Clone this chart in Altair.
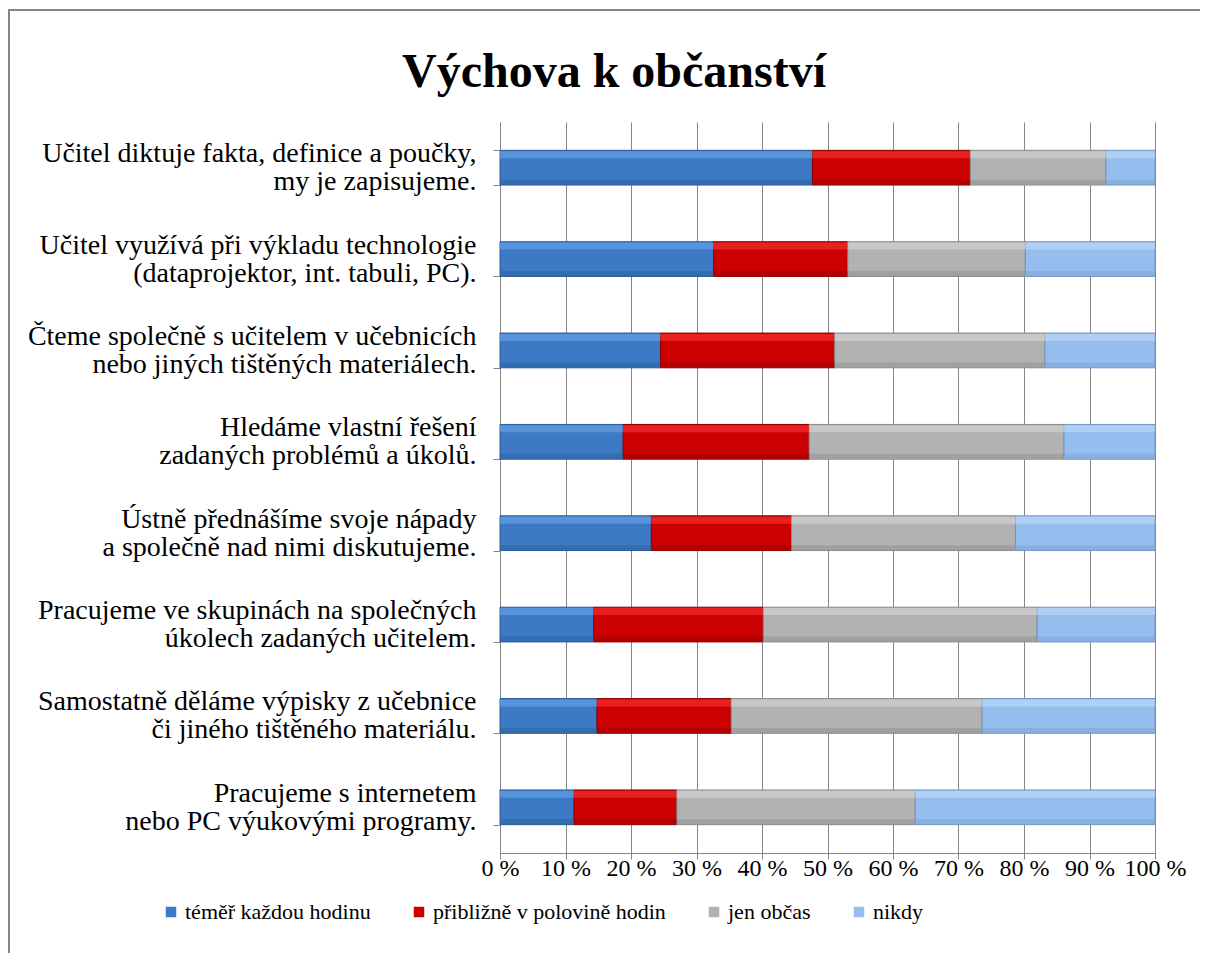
import altair as alt
import pandas as pd

title_text = "Výchova k občanství"

categories = [
    "Učitel diktuje fakta, definice a poučky,|my je zapisujeme.",
    "Učitel využívá při výkladu technologie|(dataprojektor, int. tabuli, PC).",
    "Čteme společně s učitelem v učebnicích|nebo jiných tištěných materiálech.",
    "Hledáme vlastní řešení|zadaných problémů a úkolů.",
    "Ústně přednášíme svoje nápady|a společně nad nimi diskutujeme.",
    "Pracujeme ve skupinách na společných|úkolech zadaných učitelem.",
    "Samostatně děláme výpisky z učebnice|či jiného tištěného materiálu.",
    "Pracujeme s internetem|nebo PC výukovými programy.",
]

series = ["téměř každou hodinu", "přibližně v polovině hodin", "jen občas", "nikdy"]

s_kazdou = [47.7, 32.6, 24.5, 18.8, 23.1, 14.3, 14.8, 11.3]
s_polovina = [24.1, 20.5, 26.6, 28.4, 21.4, 25.9, 20.5, 15.7]
s_obcas = [20.7, 27.1, 32.1, 38.9, 34.2, 41.8, 38.3, 36.4]
s_nikdy = [7.5, 19.8, 16.8, 13.9, 21.3, 18.0, 26.4, 36.6]

x_ticks = [0, 0.1, 0.2, 0.3, 0.4, 0.5, 0.6, 0.7, 0.8, 0.9, 1.0]

fill_colors = ["#3C7AC6", "#CC0000", "#B2B2B2", "#95BDEE"]
edge_colors = ["#2B5A94", "#8E0000", "#8A8A8A", "#6F95C4"]
light_colors = ["#6DA9EE", "#FF3A3A", "#DADADA", "#C4DFFB"]
dark_colors = ["#2E619F", "#A00000", "#929292", "#7FA4D2"]

rows = []
for si, (name, vals) in enumerate(zip(series, [s_kazdou, s_polovina, s_obcas, s_nikdy])):
    for cat, v in zip(categories, vals):
        rows.append({"kategorie": cat, "serie": name, "hodnota": v, "poradi": si})
df = pd.DataFrame(rows)

FONT = "Liberation Serif"

y_enc = alt.Y(
    "kategorie:N",
    sort=categories,
    scale=alt.Scale(paddingInner=0.62, paddingOuter=0.31),
    axis=alt.Axis(
        title=None,
        labelExpr="split(datum.label, '|')",
        labelFont=FONT,
        labelFontSize=28,
        labelColor="#000000",
        labelAlign="right",
        labelBaseline="middle",
        labelPadding=17,
        labelLimit=600,
        labelLineHeight=28,
        labelOffset=-14,
        tickBand="extent",
        tickSize=7,
        tickColor="#868686",
        domainColor="#868686",
        grid=False,
    ),
)

x_enc = alt.X(
    "hodnota:Q",
    stack="normalize",
    scale=alt.Scale(domain=[0, 1], nice=False),
    axis=alt.Axis(
        title=None,
        values=x_ticks,
        labelExpr="round(datum.value * 100) + ' %'",
        labelFont=FONT,
        labelFontSize=24,
        labelColor="#000000",
        labelOverlap=False,
        labelPadding=-3,
        labelFlush=False,
        tickSize=6,
        tickColor="#868686",
        domainColor="#868686",
        grid=True,
        gridColor="#868686",
    ),
)

order_enc = alt.Order("poradi:Q", sort="ascending")

bars = alt.Chart(df).mark_bar(strokeWidth=1).encode(
    y=y_enc,
    x=x_enc,
    color=alt.Color(
        "serie:N",
        sort=series,
        scale=alt.Scale(domain=series, range=fill_colors),
        legend=alt.Legend(
            title=None,
            orient="none",
            legendX=-340,
            legendY=779,
            direction="horizontal",
            symbolType="square",
            symbolSize=110,
            symbolStrokeWidth=0,
            labelFont=FONT,
            labelFontSize=22,
            labelColor="#000000",
            labelOffset=3,
            columnPadding=37,
            labelLimit=400,
        ),
    ),
    stroke=alt.Stroke(
        "serie:N",
        sort=series,
        scale=alt.Scale(domain=series, range=edge_colors),
        legend=None,
    ),
    order=order_enc,
)

highlight = alt.Chart(df).mark_bar(height=7, yOffset=-13, opacity=0.55).encode(
    y=alt.Y("kategorie:N", sort=categories),
    x=alt.X("hodnota:Q", stack="normalize"),
    fill=alt.Fill("serie:N", sort=series, scale=alt.Scale(domain=series, range=light_colors), legend=None),
    order=order_enc,
)

shade = alt.Chart(df).mark_bar(height=5, yOffset=14.5, opacity=0.55).encode(
    y=alt.Y("kategorie:N", sort=categories),
    x=alt.X("hodnota:Q", stack="normalize"),
    fill=alt.Fill("serie:N", sort=series, scale=alt.Scale(domain=series, range=dark_colors), legend=None),
    order=order_enc,
)

title_df = pd.DataFrame({"t": [title_text]})
title = alt.Chart(title_df).mark_text(
    font=FONT, fontSize=48, fontWeight="bold", align="center", baseline="alphabetic", color="#000000"
).encode(text="t:N", x=alt.value(114), y=alt.value(-35))

frame_df = pd.DataFrame({"f": [1]})
frame = alt.Chart(frame_df).mark_rect(fill=None, stroke="#868686", strokeWidth=2).encode(
    x=alt.value(-491), x2=alt.value(720), y=alt.value(-112), y2=alt.value(900)
)

chart = alt.layer(frame, bars, highlight, shade, title).resolve_scale(
    fill="independent"
).properties(
    width=655,
    height=731,
    autosize=alt.AutoSizeParams(type="none"),
    padding={"left": 492, "top": 114, "right": 45, "bottom": 100},
    background="#FFFFFF",
).configure(font=FONT).configure_view(stroke=None)

chart.save("out.html", embed_options={"renderer": "svg", "actions": False})
